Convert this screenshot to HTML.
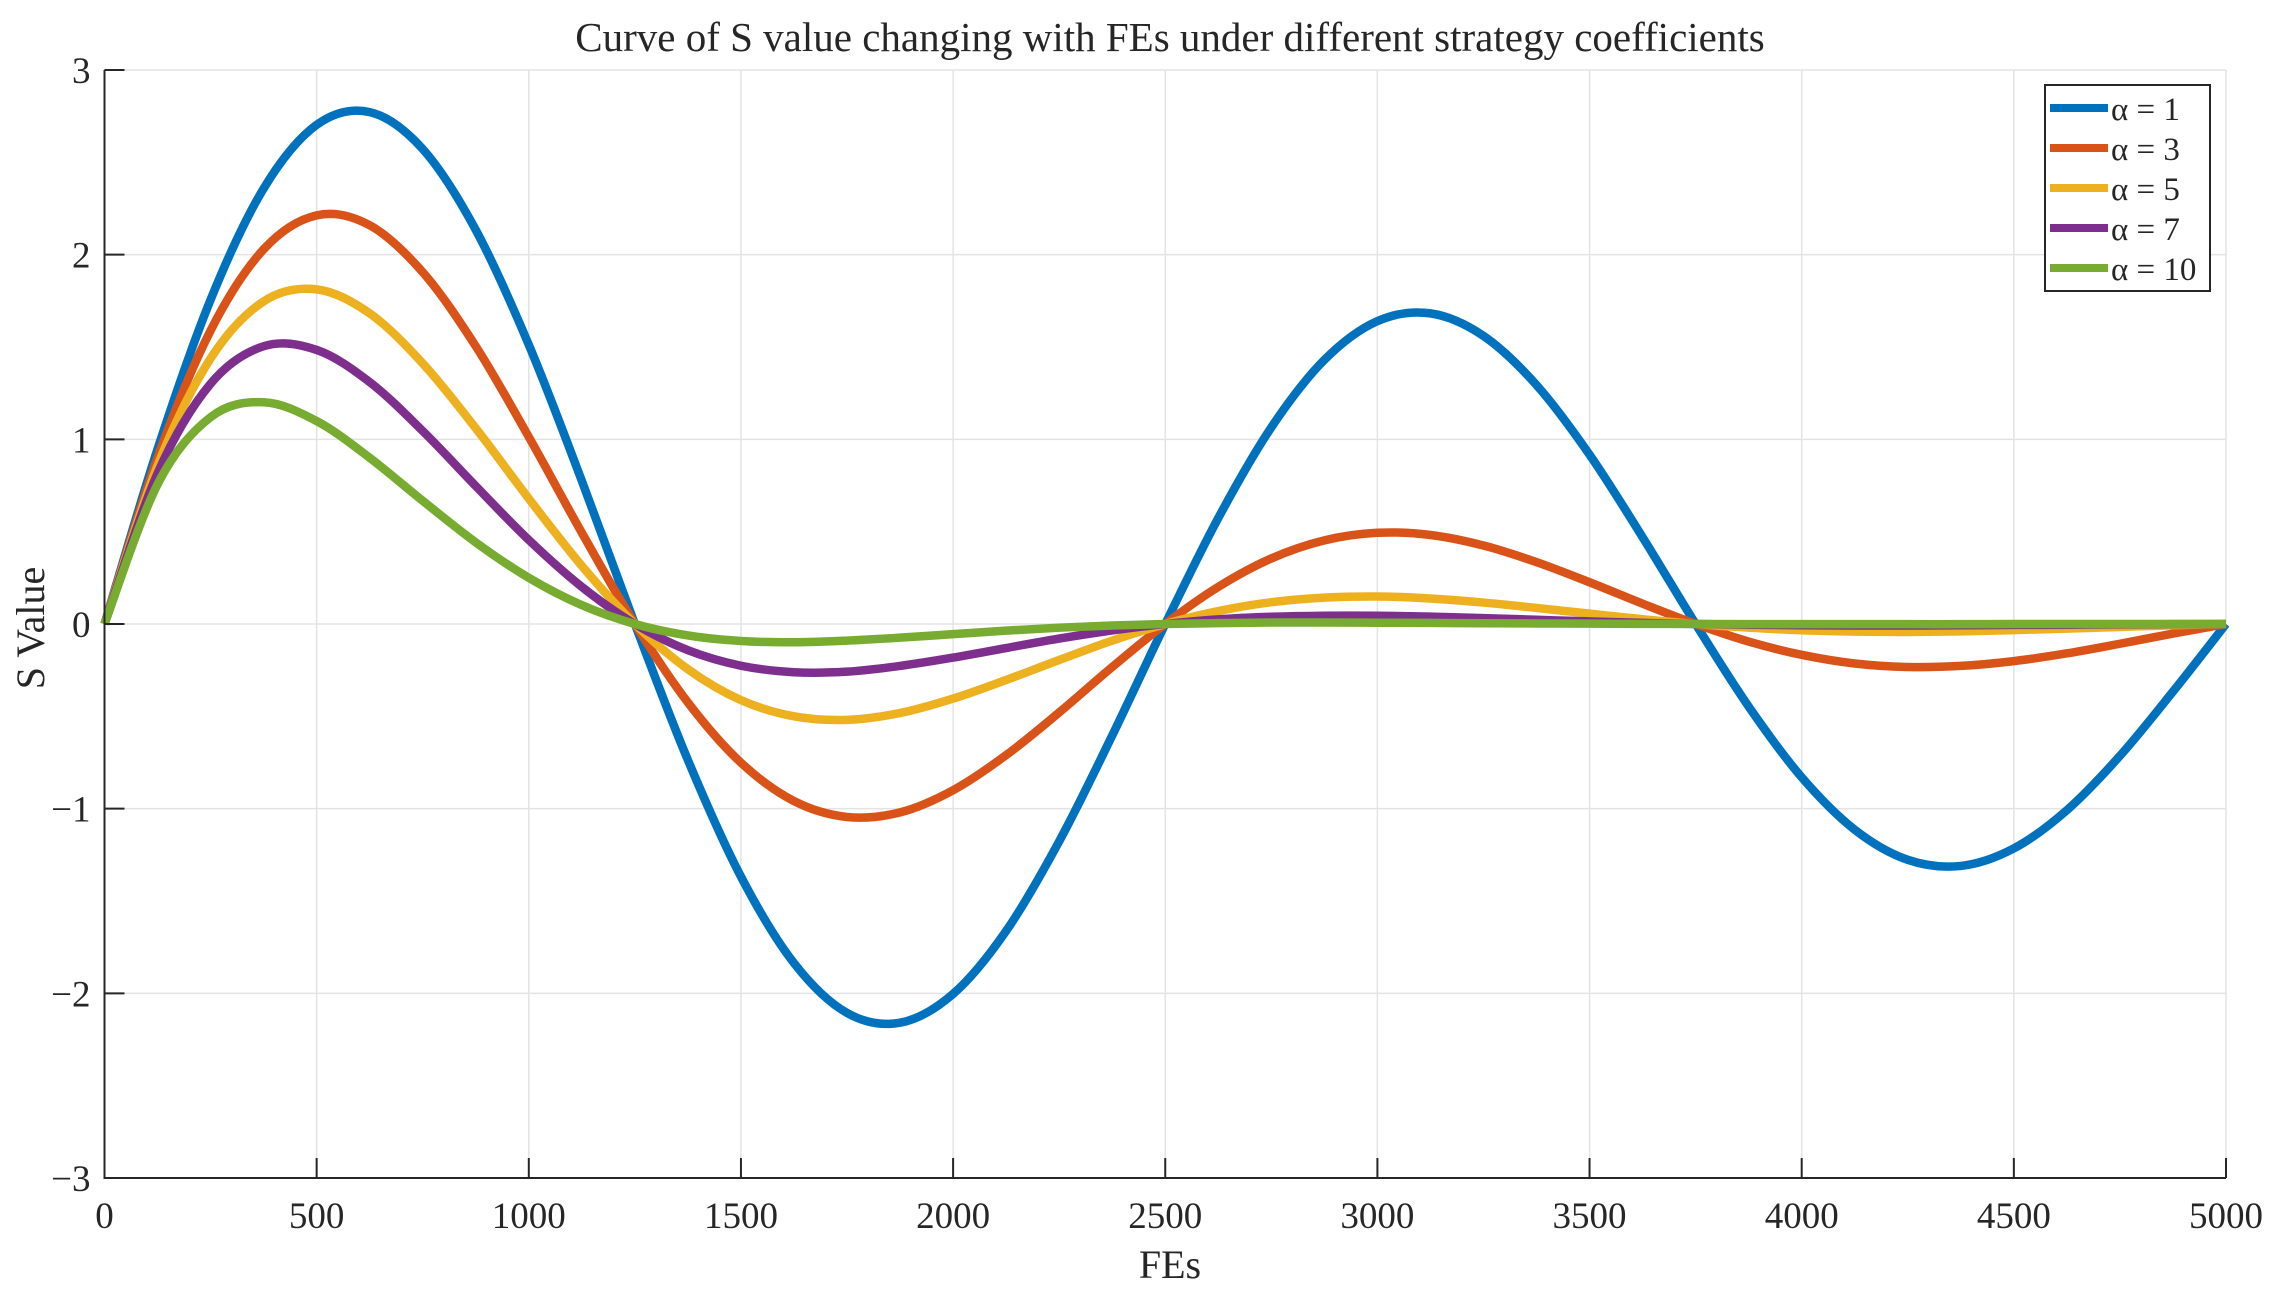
<!DOCTYPE html>
<html><head><meta charset="utf-8"><style>
body{margin:0;background:#fff}
svg text{font-family:"Liberation Serif",serif;fill:#262626}
</style></head><body>
<svg id="chart" width="2289" height="1296" viewBox="0 0 2289 1296" xmlns="http://www.w3.org/2000/svg">
<rect width="2289" height="1296" fill="#fff"/>
<g id="grid"></g>
<g id="series"></g>
<g id="axes"></g>
<text x="1170" y="51" font-size="41" text-anchor="middle">Curve of S value changing with FEs under different strategy coefficients</text>
<text x="1170" y="1278" font-size="40" text-anchor="middle">FEs</text>
<text x="44" y="628" font-size="40" text-anchor="middle" transform="rotate(-90 44 628)">S Value</text>
<g id="legend"></g>
</svg>
<script>
const xTicks=[0,500,1000,1500,2000,2500,3000,3500,4000,4500,5000];
const yTicks=[-3,-2,-1,0,1,2,3];
const xStart=0, xStep=125, nPts=41;
const labels=["\u03B1 = 1","\u03B1 = 3","\u03B1 = 5","\u03B1 = 7","\u03B1 = 10"];
const colors=["#0072BD","#D95319","#EDB120","#7E2F8E","#77AC30"];
const alpha1=[0,.947,1.756,2.358,2.703,2.772,2.572,2.134,1.512,.775,0,-.737,-1.368,-1.836,-2.106,-2.159,-2.003,-1.662,-1.177,-.604,0,.574,1.065,1.430,1.640,1.682,1.560,1.294,.917,.470,0,-.447,-.830,-1.114,-1.277,-1.310,-1.215,-1.008,-.714,-.366,0];
const alpha3=[0,.901,1.589,2.029,2.213,2.159,1.905,1.504,1.013,.494,0,-.425,-.751,-.959,-1.045,-1.020,-.900,-.710,-.479,-.233,0,.201,.355,.453,.494,.482,.425,.335,.226,.110,0,-.095,-.167,-.214,-.233,-.227,-.201,-.159,-.107,-.052,0];
const alpha5=[0,.857,1.438,1.747,1.812,1.682,1.411,1.060,.679,.315,0,-.245,-.412,-.500,-.519,-.482,-.404,-.303,-.195,-.090,0,.070,.118,.143,.149,.138,.116,.087,.056,.026,0,-.020,-.034,-.041,-.043,-.040,-.033,-.025,-.016,-.007,0];
const alpha7=[0,.815,1.301,1.504,1.484,1.310,1.045,.747,.455,.201,0,-.142,-.226,-.261,-.258,-.227,-.182,-.130,-.079,-.035,0,.025,.039,.045,.045,.040,.032,.023,.014,.006,0,-.004,-.007,-.008,-.008,-.007,-.005,-.004,-.002,-.001,0];
const alpha10=[0,.756,1.120,1.201,1.099,.900,.667,.442,.250,.102,0,-.062,-.092,-.099,-.090,-.074,-.055,-.036,-.020,-.008,0,.005,.008,.008,.007,.006,.004,.003,.002,.001,0,-.001,-.001,-.001,-.001,-.001,0,0,0,0,0];
const seriesData=[alpha1,alpha3,alpha5,alpha7,alpha10];

const L=104.5,R=2226,T=70,B=1178;
const xs=v=>L+(v-0)/(5000-0)*(R-L);
const ys=v=>B-(v+3)/6*(B-T);
const NS="http://www.w3.org/2000/svg";
function mk(tag,attrs,parent){const e=document.createElementNS(NS,tag);for(const k in attrs)e.setAttribute(k,attrs[k]);parent.appendChild(e);return e;}
const grid=document.getElementById('grid'),axes=document.getElementById('axes'),ser=document.getElementById('series'),leg=document.getElementById('legend');
xTicks.forEach(t=>{
  const g=mk('line',{x1:xs(t),x2:xs(t),y1:T,y2:B,stroke:'#e3e3e3','stroke-width':1.5},grid);
  
  
  const tk=mk('line',{x1:xs(t),x2:xs(t),y1:B,y2:B-20,stroke:'#262626','stroke-width':2},axes);
  
  
  const tx=mk('text',{x:xs(t),y:B+50,'font-size':37,'text-anchor':'middle'},axes);
  tx.textContent=t;
  
  
});
yTicks.forEach(t=>{
  const g=mk('line',{x1:L,x2:R,y1:ys(t),y2:ys(t),stroke:'#e3e3e3','stroke-width':1.5},grid);
  
  
  const tk=mk('line',{x1:L,x2:L+20,y1:ys(t),y2:ys(t),stroke:'#262626','stroke-width':2},axes);
  
  
  const tx=mk('text',{x:L-14,y:ys(t)+13,'font-size':37,'text-anchor':'end'},axes);
  tx.textContent=(t<0?'\u2212'+(-t):t);
  
  
});
const ax=mk('path',{d:`M${L},${T}V${B}H${R}`,fill:'none',stroke:'#262626','stroke-width':2},axes);


function pathFor(vals){
  const p=vals.map((v,i)=>[xs(xStart+i*xStep),ys(v)]);
  let d=`M${p[0][0]},${p[0][1]}`;
  for(let i=0;i<p.length-1;i++){
    const p0=p[Math.max(0,i-1)],p1=p[i],p2=p[i+1],p3=p[Math.min(p.length-1,i+2)];
    const c1=[p1[0]+(p2[0]-p0[0])/6,p1[1]+(p2[1]-p0[1])/6];
    const c2=[p2[0]-(p3[0]-p1[0])/6,p2[1]-(p3[1]-p1[1])/6];
    d+=`C${c1[0]},${c1[1]} ${c2[0]},${c2[1]} ${p2[0]},${p2[1]}`;
  }
  return d;
}
seriesData.forEach((vals,k)=>{
  const pth=mk('path',{d:pathFor(vals),fill:'none',stroke:colors[k],'stroke-width':8.5,'stroke-linejoin':'round'},ser);
  
  
});
const box=mk('rect',{x:2045,y:85,width:165,height:206,fill:'#fff',stroke:'#262626','stroke-width':2},leg);


labels.forEach((lb,k)=>{
  const cy=108+k*40;
  const ln=mk('line',{x1:2050,x2:2108,y1:cy,y2:cy,stroke:colors[k],'stroke-width':8},leg);
  
  
  const tx=mk('text',{x:2111,y:cy+12,'font-size':33},leg);
  tx.textContent=lb;
  
  
});
</script>
</body></html>
